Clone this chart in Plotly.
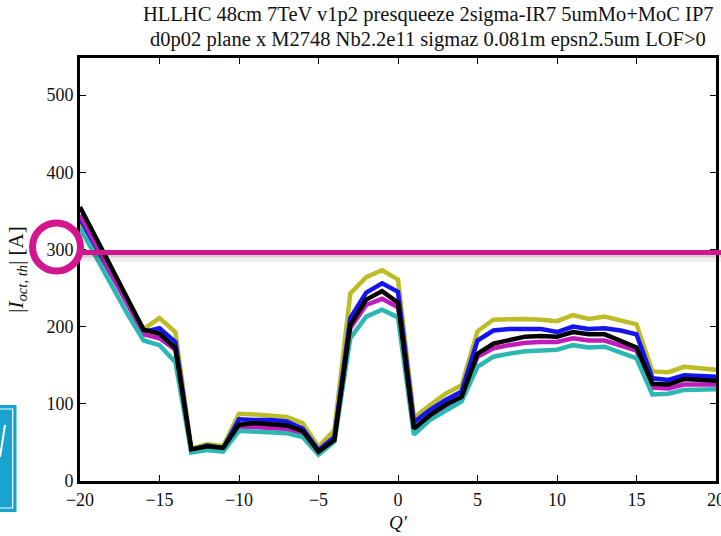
import plotly.graph_objects as go

q_prime = list(range(-20, 21))

yellow = [335, 300, 266, 231, 197, 211, 193, 42, 48, 45, 87, 86, 85, 83, 75, 44, 66, 243, 264, 273, 261,
          82, 98, 113, 124, 194, 209, 210, 210, 209, 207, 215, 210, 213, 208, 203, 142, 141, 148, 146, 144]
blue = [340, 303, 267, 230, 193, 198, 180, 40, 46, 42, 80, 79, 79, 77, 68, 40, 57, 211, 244, 256, 245,
        76, 92, 105, 116, 182, 195, 197, 197, 197, 193, 200, 197, 198, 195, 190, 133, 131, 137, 136, 135]
magenta = [345, 307, 269, 230, 190, 185, 170, 39, 44, 41, 69, 70, 68, 67, 62, 37, 53, 198, 228, 236, 225,
           65, 83, 95, 107, 161, 172, 176, 179, 180, 180, 185, 182, 182, 176, 169, 121, 120, 125, 125, 125]
cyan = [328, 290, 252, 216, 182, 176, 154, 37, 40, 38, 65, 64, 63, 62, 57, 34, 51, 185, 213, 222, 212,
        60, 79, 91, 103, 148, 161, 165, 168, 169, 170, 176, 173, 174, 167, 159, 112, 113, 118, 119, 119]
black = [355, 316, 276, 237, 196, 191, 172, 41, 45, 43, 73, 75, 74, 72, 65, 38, 53, 202, 235, 246, 231,
         68, 85, 99, 109, 165, 178, 183, 187, 188, 187, 193, 190, 190, 182, 173, 126, 125, 132, 131, 130]

series = [
    ("yellow", yellow, "#bcbc26"),
    ("blue", blue, "#1414f0"),
    ("magenta", magenta, "#c01cbc"),
    ("cyan", cyan, "#2cb8b2"),
    ("black", black, "#000000"),
]

title_lines = ["HLLHC 48cm 7TeV v1p2 presqueeze 2sigma-IR7 5umMo+MoC IP7",
               "d0p02 plane x M2748 Nb2.2e11 sigmaz 0.081m epsn2.5um LOF>0"]

threshold = 296
x_ticks = [-20, -15, -10, -5, 0, 5, 10, 15, 20]
y_ticks = [0, 100, 200, 300, 400, 500]

fig = go.Figure()
for name, vals, col in series:
    fig.add_trace(go.Scatter(x=q_prime, y=vals, mode="lines", name=name,
                             line=dict(color=col, width=4.5), showlegend=False))

W, H = 721, 536
L, R, T, B = 80, 5, 58, 55
pw, ph = W - L - R, H - T - B

def px(xp):
    return (xp - L) / pw

def py(yp):
    return (H - B - yp) / ph

font = "Liberation Serif, Times New Roman, serif"
shapes = []
shapes.append(dict(type="line", xref="paper", yref="y", x0=0, x1=1.02, y0=threshold - 6, y1=threshold - 6,
                   line=dict(color="rgba(0,0,0,0.07)", width=9), layer="above"))
shapes.append(dict(type="line", xref="paper", yref="y", x0=0, x1=1.02, y0=threshold - 4, y1=threshold - 4,
                   line=dict(color="rgba(0,0,0,0.12)", width=4), layer="above"))
shapes.append(dict(type="line", xref="paper", yref="y", x0=0, x1=1.02, y0=threshold, y1=threshold,
                   line=dict(color="#d4168e", width=5), layer="above"))
cx, cy, r = 56.5, 247, 24
shapes.append(dict(type="circle", xref="paper", yref="paper",
                   x0=px(cx - r), x1=px(cx + r), y0=py(cy + r), y1=py(cy - r),
                   line=dict(color="#d4168e", width=7), layer="above"))
shapes.append(dict(type="rect", xref="paper", yref="paper",
                   x0=px(0), x1=px(16.5), y0=py(512), y1=py(405),
                   fillcolor="#1aa3cf", line=dict(width=0), layer="above"))
shapes.append(dict(type="rect", xref="paper", yref="paper",
                   x0=px(-5), x1=px(12.7), y0=py(508), y1=py(409),
                   line=dict(color="white", width=1.2), layer="above"))
shapes.append(dict(type="line", xref="paper", yref="paper",
                   x0=px(0), x1=px(5), y0=py(457), y1=py(425),
                   line=dict(color="white", width=2), layer="above"))

annotations = []
for i, (txt, ycen) in enumerate(zip(title_lines, [15, 39])):
    annotations.append(dict(text=txt, xref="paper", yref="paper", x=px(428), y=py(ycen),
                            xanchor="center", yanchor="middle", showarrow=False,
                            font=dict(family=font, size=20.5, color="#111")))

fig.update_layout(
    width=W, height=H,
    margin=dict(l=L, r=R, t=T, b=B),
    paper_bgcolor="white", plot_bgcolor="white",
    font=dict(family=font, size=18, color="#111"),
    shapes=shapes,
    annotations=annotations,
    xaxis=dict(range=[-20, 20], tickvals=x_ticks, ticks="inside", ticklen=6, tickwidth=1.2,
               tickcolor="black", showline=True, linewidth=3, linecolor="black", mirror="ticks",
               showgrid=False, zeroline=False, ticklabeloverflow="allow", automargin=False,
               title=dict(text="<i>Q′</i>", standoff=8, font=dict(family=font, size=19))),
    yaxis=dict(range=[0, 548], tickvals=y_ticks, ticks="inside", ticklen=6, tickwidth=1.2,
               tickcolor="black", showline=True, linewidth=3, linecolor="black", mirror="ticks",
               showgrid=False, zeroline=False, automargin=False,
               title=dict(text="|<i>I</i><sub><i>oct, th</i></sub>| [A]", standoff=18,
                          font=dict(family=font, size=21))),
)

fig.write_html("out.html")
